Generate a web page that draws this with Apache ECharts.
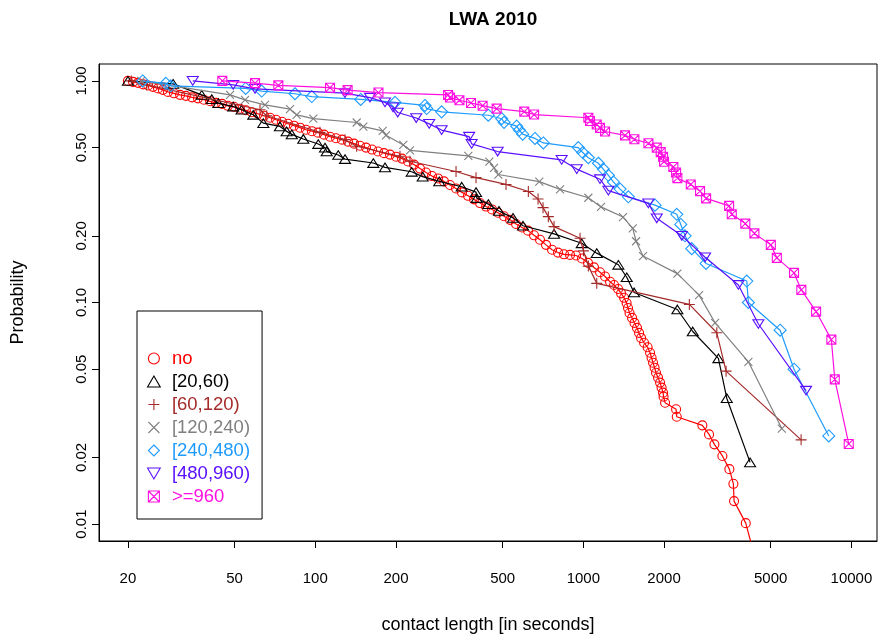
<!DOCTYPE html>
<html>
<head>
<meta charset="utf-8">
<script src="https://cdn.jsdelivr.net/npm/echarts@6/dist/echarts.min.js"></script>
<style>
html,body{margin:0;padding:0;background:#fff;}
#chart{width:881px;height:639px;}
</style>
</head>
<body>
<div id="chart"></div>
<script>
// ---- data (contact length in seconds, probability) ----
const seriesNames = ['no', '[20,60)', '[60,120)', '[120,240)', '[240,480)', '[480,960)', '>=960'];
const xTicks = [20, 50, 100, 200, 500, 1000, 2000, 5000, 10000];
const yTicks = [0.01, 0.02, 0.05, 0.1, 0.2, 0.5, 1];

const noX = [20.0,20.9,21.8,22.8,23.8,24.8,25.9,27.0,28.2,29.7,31.3,32.9,34.7,36.5,38.4,40.5,42.6,44.9,47.2,49.7,52.4,55.1,58.0,61.1,64.4,67.8,71.4,75.1,79.1,83.3,87.7,92.3,97.2,102.3,107.8,113.5,119.5,125.8,132.4,139.5,146.8,154.6,162.8,171.4,180.5,190.0,200.1,210.6,221.8,233.5,245.9,258.9,272.5,287.0,302.1,318.1,335.0,352.7,371.4,391.0,411.7,433.5,456.4,480.5,505.9,532.7,560.9,590.5,621.8,654.6,689.2,725.8,764.2,804.6,847.2,892.0,939.3,988.8,1041,1096,1154,1205,1258,1302,1348,1383,1419,1450,1468,1487,1520,1552,1586,1614,1642,1685,1737,1774,1797,1820,1844,1867,1900,1933,1958,1983,1992,2018,2218,2231,2780,2944,3083,3302,3506,3629,3650,4036,4297];
const noY = [1.000,0.990,0.980,0.965,0.954,0.940,0.925,0.911,0.892,0.879,0.865,0.856,0.843,0.834,0.822,0.809,0.796,0.788,0.772,0.764,0.749,0.737,0.722,0.711,0.696,0.682,0.668,0.654,0.641,0.628,0.615,0.602,0.593,0.584,0.572,0.560,0.551,0.543,0.532,0.521,0.510,0.500,0.490,0.480,0.472,0.465,0.455,0.446,0.433,0.419,0.402,0.386,0.372,0.363,0.352,0.339,0.327,0.314,0.303,0.292,0.281,0.271,0.263,0.254,0.245,0.236,0.226,0.218,0.211,0.201,0.192,0.182,0.173,0.168,0.165,0.164,0.163,0.158,0.151,0.144,0.137,0.131,0.124,0.120,0.115,0.110,0.105,0.0995,0.0945,0.0897,0.0852,0.0809,0.0768,0.0729,0.0692,0.0658,0.0628,0.0593,0.0563,0.0535,0.0508,0.0482,0.0458,0.0435,0.0413,0.0392,0.0376,0.0353,0.0330,0.0305,0.0279,0.0254,0.0229,0.0203,0.0177,0.0152,0.0127,0.0101,0.0076];

const s20X = [20,29.5,37.7,41.1,43.5,49.4,53.1,58.7,64.0,73.8,78.2,81.7,90.2,102.6,108.7,110.3,121.8,129.1,164.6,182.0,228.9,251.6,290.1,351.8,397.8,400.2,442.2,484.6,546.6,595.7,777.6,986.3,1122,1351,1452,1546,2243,2560,3190,3428,4188];
const s20Y = [1,0.969,0.865,0.827,0.794,0.766,0.741,0.703,0.645,0.623,0.592,0.574,0.547,0.519,0.5,0.481,0.463,0.444,0.426,0.407,0.389,0.370,0.352,0.333,0.315,0.296,0.278,0.259,0.241,0.222,0.204,0.185,0.167,0.148,0.130,0.111,0.093,0.074,0.056,0.037,0.019];

const s60X = [20.6,23.5,62.2,65.9,104.1,129.1,142.7,207.0,225.6,335.0,397.8,514.6,623.5,677.7,707.4,740.4,777.6,972.1,1001,1044,1122,2486,3147,3408,6493];
const s60Y = [1,0.959,0.741,0.696,0.586,0.543,0.507,0.457,0.434,0.39,0.366,0.341,0.317,0.293,0.268,0.244,0.22,0.195,0.171,0.146,0.122,0.098,0.073,0.049,0.024];

const s120X = [22.4,48.1,54.7,64.9,80.5,85.2,98.3,142.7,151.1,178.4,183.5,213.0,225.6,372.3,446.0,464.4,481.7,685.0,818.6,1044,1164,1406,1529,1573,1670,2243,2703,3101,4128,5500];
const s120Y = [1,0.865,0.821,0.78,0.746,0.703,0.676,0.649,0.622,0.595,0.568,0.514,0.486,0.459,0.432,0.405,0.378,0.351,0.324,0.297,0.270,0.243,0.216,0.189,0.162,0.135,0.108,0.081,0.054,0.027];

const s240X = [22.7,27.7,28.9,55.0,63.1,84.0,97.0,147.7,198.4,256.6,260.4,296,442,496,506,564,577,594,660,709,958,995,1044,1138,1187,1240,1294,1371,1472,1851,2231,2309,2396,2538,2870,4071,4128,5420,6110,8234];
const s240Y = [1,0.975,0.95,0.925,0.9,0.875,0.85,0.825,0.8,0.775,0.75,0.725,0.7,0.675,0.65,0.625,0.6,0.575,0.55,0.525,0.5,0.475,0.45,0.425,0.4,0.375,0.35,0.325,0.3,0.275,0.25,0.225,0.2,0.175,0.15,0.125,0.1,0.075,0.05,0.025];

const s480X = [34.9,49.4,59.6,129,160,182,195,203,238,266,296,375,383,479,830,945,1154,1240,1748,1879,2330,2846,3788,4498,6775];
const s480Y = [1,0.96,0.92,0.88,0.84,0.80,0.76,0.72,0.68,0.64,0.60,0.56,0.52,0.48,0.44,0.40,0.36,0.32,0.28,0.24,0.20,0.16,0.12,0.08,0.04];

const s960X = [45.0,59.6,72.8,113.5,132,172,313,318,345,381,421,475,602,655,1044,1059,1122,1154,1205,1431,1550,1749,1879,1944,1983,2000,2167,2218,2243,2517,2725,2871,3497,3579,4020,4346,5005,5270,6110,6505,7385,8418,8670,9775];
const s960Y = [1,0.977,0.955,0.932,0.909,0.886,0.864,0.841,0.818,0.795,0.773,0.750,0.727,0.705,0.682,0.659,0.636,0.614,0.591,0.568,0.545,0.523,0.500,0.477,0.455,0.432,0.409,0.386,0.364,0.341,0.318,0.295,0.273,0.250,0.227,0.205,0.182,0.159,0.136,0.114,0.091,0.068,0.045,0.023];

// ---- styling ----
const FONT = '"Liberation Sans", Arial, Helvetica, sans-serif';
const colors = ['#FF0000', '#000000', '#A52A2A', '#808080', '#1E9BFF', '#5A10FF', '#FF10E0'];
const symbols = [
  'circle',
  'path://M5,0L10,8.66L0,8.66Z',
  'path://M0,5L10,5M5,0L5,10',
  'path://M0,0L10,10M10,0L0,10',
  'path://M5,0L10,5L5,10L0,5Z',
  'path://M0,0L10,0L5,8.66Z',
  'path://M0,0L10,0L10,10L0,10ZM0,0L10,10M10,0L0,10'
];
const sizes = [9, [11, 10], 11, 8, 12, [11, 10], 9];
const xs = [noX, s20X, s60X, s120X, s240X, s480X, s960X];
const ys = [noY, s20Y, s60Y, s120Y, s240Y, s480Y, s960Y];

const series = seriesNames.map((name, i) => ({
  name: name,
  type: 'line',
  data: xs[i].map((x, j) => [x, ys[i][j]]),
  symbol: symbols[i],
  symbolSize: sizes[i],
  symbolKeepAspect: true,
  showAllSymbol: true,
  clip: true,
  lineStyle: { color: colors[i], width: 1.2 },
  itemStyle: { color: 'rgba(0,0,0,0)', borderColor: colors[i], borderWidth: 1.1 },
  emphasis: { disabled: true },
  z: 2 + i
}));

const chart = echarts.init(document.getElementById('chart'), null, { renderer: 'canvas' });
chart.setOption({
  animation: false,
  backgroundColor: '#ffffff',
  title: {
    text: 'LWA 2010',
    left: 488,
    top: 5,
    textAlign: 'center',
    textStyle: { fontFamily: FONT, fontSize: 19, fontWeight: 'bold', color: '#000' }
  },
  grid: {
    left: 99, right: 4, top: 64, bottom: 96,
    show: true, borderColor: '#000', borderWidth: 1, backgroundColor: 'transparent'
  },
  legend: {
    orient: 'vertical',
    left: 137,
    top: 311,
    padding: [38, 12, 13, 10],
    itemWidth: 22,
    itemHeight: 11,
    itemGap: 4,
    symbolKeepAspect: true,
    borderColor: '#000',
    borderWidth: 1,
    selectedMode: false,
    itemStyle: { borderWidth: 1.1 },
    textStyle: { fontFamily: FONT, fontSize: 18.5, padding: [0, 0, 0, 2] },
    data: seriesNames.map((n, i) => ({
      name: n,
      icon: symbols[i],
      textStyle: { color: colors[i] }
    }))
  },
  xAxis: {
    type: 'log',
    logBase: 10,
    min: 15.6,
    max: 12460,
    name: 'contact length [in seconds]',
    nameLocation: 'middle',
    nameGap: 75,
    nameTextStyle: { fontFamily: FONT, fontSize: 18, color: '#000' },
    axisLine: { show: true, lineStyle: { color: '#000', width: 1 } },
    axisTick: { show: true, inside: false, length: 7, lineStyle: { color: '#000' }, customValues: xTicks },
    axisLabel: {
      show: true, margin: 30, fontFamily: FONT, fontSize: 15, color: '#000',
      customValues: xTicks,
      formatter: v => String(Math.round(v))
    },
    splitLine: { show: false }
  },
  yAxis: {
    type: 'log',
    logBase: 10,
    min: 0.00839,
    max: 1.192,
    name: 'Probability',
    nameLocation: 'middle',
    nameGap: 72,
    nameTextStyle: { fontFamily: FONT, fontSize: 18, color: '#000' },
    axisLine: { show: true, lineStyle: { color: '#000', width: 1 } },
    axisTick: { show: true, inside: false, length: 7, lineStyle: { color: '#000' }, customValues: yTicks },
    axisLabel: {
      show: true, rotate: 90, margin: 10, fontFamily: FONT, fontSize: 15, color: '#000',
      customValues: yTicks,
      formatter: v => Number(v).toFixed(2)
    },
    splitLine: { show: false }
  },
  series: series
});
</script>
</body>
</html>
